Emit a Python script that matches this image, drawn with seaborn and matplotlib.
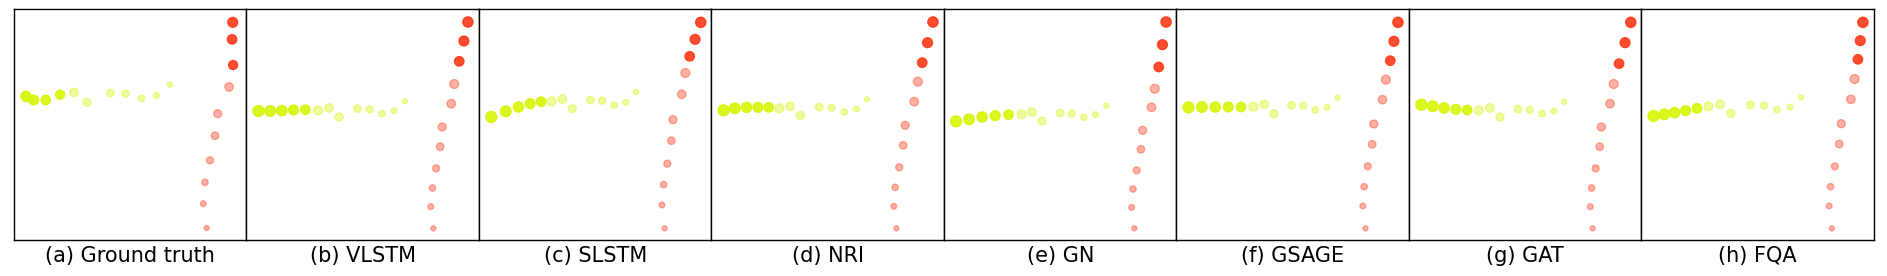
import numpy as np
import pandas as pd
import seaborn as sns
import matplotlib.pyplot as plt

# panel titles
labels = ["(a) Ground truth", "(b) VLSTM", "(c) SLSTM", "(d) NRI",
          "(e) GN", "(f) GSAGE", "(g) GAT", "(h) FQA"]

# trajectories in the panel's own frame (x right, y down), time ordered
# agent 1 (yellow) walks right -> left, agent 2 (red) walks bottom -> top
gt_a1 = [(468, 230), (428, 262), (383, 271), (336, 257), (290, 255), (220, 283), (181, 253),
         (140, 260), (97, 276), (61, 276), (38, 265)]
gt_a2 = [(578, 660), (568, 587), (573, 523), (588, 457), (603, 383), (611, 317), (645, 237),
         (657, 171), (654, 94), (656, 43)]
vlstm_a1 = [(475, 280), (443, 308), (407, 317), (370, 304), (334, 302), (279, 327), (249, 300), (216, 307),
            (178, 305), (143, 306), (108, 308), (73, 309), (38, 309)]
vlstm_a2 = [(561, 661), (553, 596), (558, 540), (569, 481), (581, 416), (587, 357), (614, 287), (623, 228),
            (638, 160), (652, 99), (664, 42)]
slstm_a1 = [(472, 252), (441, 283), (406, 291), (370, 278), (335, 276), (281, 302), (251, 273), (219, 280),
            (188, 281), (155, 287), (120, 297), (82, 310), (39, 327)]
slstm_a2 = [(557, 661), (549, 591), (554, 530), (565, 467), (577, 398), (582, 335), (608, 259), (619, 195),
            (632, 145), (648, 94), (665, 43)]
nri_a1 = [(467, 274), (435, 303), (399, 312), (361, 299), (324, 297), (268, 322), (237, 295), (205, 301),
          (173, 298), (141, 298), (107, 298), (72, 301), (38, 307)]
nri_a2 = [(555, 661), (547, 595), (551, 538), (563, 478), (575, 412), (581, 352), (608, 281), (619, 221),
          (632, 164), (648, 104), (664, 42)]
gn_a1 = [(487, 293), (455, 320), (420, 328), (384, 317), (349, 315), (295, 339), (265, 312), (234, 319),
         (195, 320), (155, 323), (116, 327), (77, 334), (38, 340)]
gn_a2 = [(571, 661), (563, 598), (567, 543), (578, 487), (591, 424), (596, 367), (622, 298), (632, 242),
         (644, 177), (655, 110), (666, 42)]
gsage_a1 = [(483, 269), (452, 298), (417, 306), (381, 293), (346, 292), (293, 317), (264, 289), (232, 296),
            (195, 297), (157, 297), (118, 297), (78, 297), (38, 298)]
gsage_a2 = [(567, 661), (559, 594), (563, 536), (574, 475), (587, 409), (592, 348), (618, 275), (628, 215),
            (641, 158), (652, 100), (664, 43)]
gat_a1 = [(466, 281), (435, 309), (400, 317), (363, 305), (328, 303), (274, 327), (244, 300), (211, 307),
          (176, 306), (142, 304), (107, 300), (73, 295), (39, 290)]
gat_a2 = [(551, 661), (544, 596), (548, 540), (560, 481), (572, 416), (577, 357), (603, 287), (614, 228),
          (630, 167), (648, 104), (665, 43)]
fqa_a1 = [(479, 268), (446, 297), (407, 305), (368, 293), (328, 291), (269, 316), (237, 289), (202, 295),
          (168, 301), (134, 308), (101, 314), (70, 319), (38, 324)]
fqa_a2 = [(571, 661), (563, 594), (567, 536), (580, 475), (593, 408), (599, 347), (628, 274), (639, 213),
          (649, 154), (656, 98), (664, 43)]

panels = [(gt_a1, gt_a2), (vlstm_a1, vlstm_a2), (slstm_a1, slstm_a2), (nri_a1, nri_a2),
          (gn_a1, gn_a2), (gsage_a1, gsage_a2), (gat_a1, gat_a2), (fqa_a1, fqa_a2)]
# number of observed (faded) steps per agent in each panel
n_obs = [(7, 7), (8, 8), (8, 8), (8, 8), (8, 8), (8, 8), (8, 8), (8, 8)]

palette = {"a1": "#d6f500", "a2": "#ff3414"}

sns.set_theme(style="white")
plt.rcParams["axes.edgecolor"] = "black"
plt.rcParams["text.color"] = "black"
plt.rcParams["axes.labelcolor"] = "black"
plt.rcParams["font.family"] = ["DejaVu Sans"]

fig, axes = plt.subplots(1, 8, figsize=(18.87, 2.76), dpi=100)
fig.subplots_adjust(left=0.0074, right=0.9931, bottom=0.1304, top=0.9674, wspace=0)

for ax, (a1, a2), (o1, o2), label in zip(axes, panels, n_obs, labels):
    rows = []
    for name, traj, nob in (("a1", a1, o1), ("a2", a2, o2)):
        for i, (x, y) in enumerate(traj):
            rows.append({"x": x, "y": y, "agent": name, "step": i,
                         "phase": "obs" if i < nob else "pred"})
    df = pd.DataFrame(rows)

    for phase, alpha in (("obs", 0.38), ("pred", 0.88)):
        sns.scatterplot(data=df[df.phase == phase], x="x", y="y", hue="agent",
                        palette=palette, size="step", sizes=(13, 62), size_norm=(0, 12),
                        alpha=alpha, edgecolor="face", linewidth=1.0, legend=False, ax=ax)

    ax.set_xlim(2, 697)
    ax.set_ylim(696, 3)
    ax.set_xticks([])
    ax.set_yticks([])
    ax.set_ylabel("")
    ax.set_xlabel(label, fontsize=15, labelpad=4)
    for s in ax.spines.values():
        s.set_linewidth(1.0)

plt.savefig("out.png", dpi=100)
plt.close()
